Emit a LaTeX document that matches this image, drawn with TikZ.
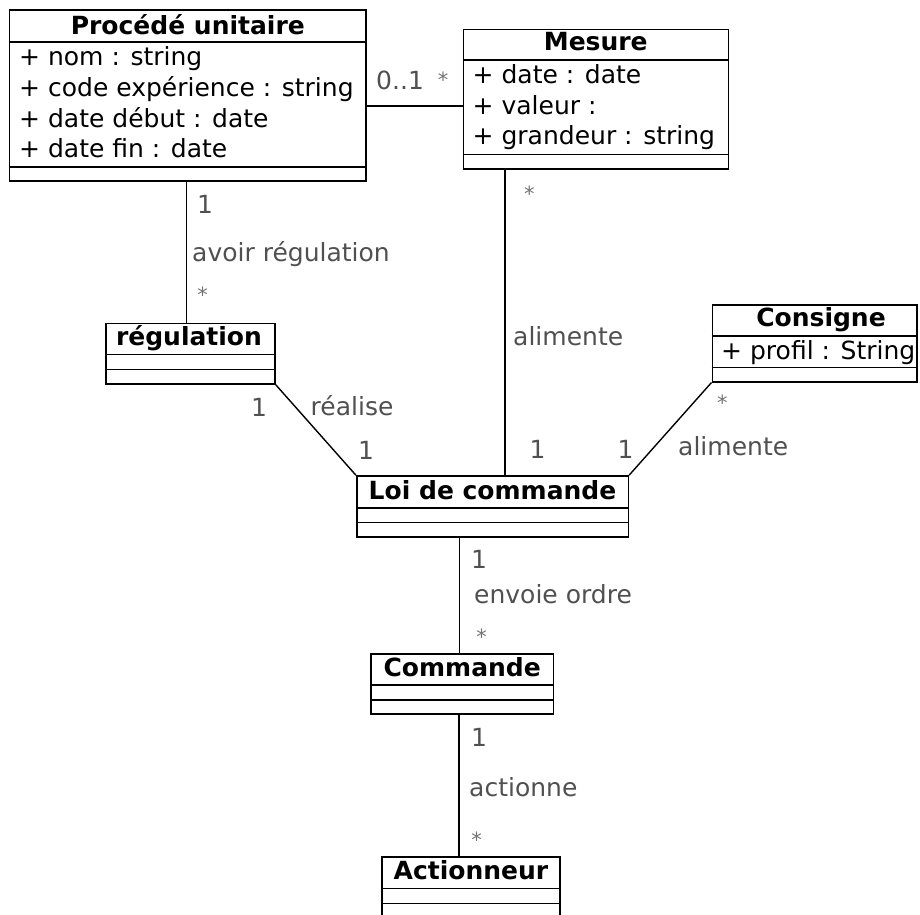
\documentclass[tikz,border=0pt]{standalone}
\usepackage{fontspec}
\setmainfont{DejaVu Sans}
\definecolor{labgray}{HTML}{505050}
\newcommand{\ufont}{\fontsize{25}{30}\selectfont}
\newcommand{\sfontsm}{\fontsize{21}{24}\selectfont}
\begin{document}
\begin{tikzpicture}[x=1pt,y=-1pt,
  umlbox/.style={draw, line width=1.6pt, inner sep=0pt, fill=white},
  sep/.style={line width=1.6pt},
  conn/.style={line width=1.4pt},
  ttl/.style={font={\ufont\bfseries}, inner sep=0pt, anchor=base},
  attr/.style={font=\ufont, inner sep=0pt, anchor=base west},
  lbl/.style={font=\ufont, text=labgray, inner sep=0pt, anchor=base},
  lblw/.style={font=\ufont, text=labgray, inner sep=0pt, anchor=base west},
  star/.style={font=\sfontsm, text=labgray!80, inner sep=0pt, anchor=center}]
\useasboundingbox (0,0) rectangle (920,914);
\clip (0,0) rectangle (920,914);

% boxes
\node[umlbox, minimum width=356.2pt, minimum height=171pt] (proc) at (187.6,95.5) {};
\node[umlbox, minimum width=265pt, minimum height=139.7pt] (mes) at (595.8,99.15) {};
\node[umlbox, minimum width=169.3pt, minimum height=60.7pt] (reg) at (190.35,353.65) {};
\node[umlbox, minimum width=204.7pt, minimum height=76.7pt] (cons) at (814.65,343.35) {};
\node[umlbox, minimum width=271.6pt, minimum height=60.7pt] (loi) at (492.5,506.35) {};
\node[umlbox, minimum width=182.3pt, minimum height=60pt] (cmd) at (462.15,684) {};
\node[umlbox, minimum width=178pt, minimum height=64pt] (act) at (471,888.7) {};

% compartment separators
\draw[sep] (proc.west |- 0,41.7) -- (proc.east |- 0,41.7);
\draw[sep] (proc.west |- 0,166.8) -- (proc.east |- 0,166.8);
\draw[sep] (mes.west |- 0,60) -- (mes.east |- 0,60);
\draw[sep] (mes.west |- 0,154.6) -- (mes.east |- 0,154.6);
\draw[sep] (reg.west |- 0,354.3) -- (reg.east |- 0,354.3);
\draw[sep] (reg.west |- 0,369.3) -- (reg.east |- 0,369.3);
\draw[sep] (cons.west |- 0,336) -- (cons.east |- 0,336);
\draw[sep] (cons.west |- 0,367.3) -- (cons.east |- 0,367.3);
\draw[sep] (loi.west |- 0,507.7) -- (loi.east |- 0,507.7);
\draw[sep] (loi.west |- 0,522.3) -- (loi.east |- 0,522.3);
\draw[sep] (cmd.west |- 0,685) -- (cmd.east |- 0,685);
\draw[sep] (cmd.west |- 0,700) -- (cmd.east |- 0,700);
\draw[sep] (act.west |- 0,888.3) -- (act.east |- 0,888.3);
\draw[sep] (act.west |- 0,903.3) -- (act.east |- 0,903.3);

% titles
\node[ttl] (tproc) at (187.8,34.5) {Procédé unitaire};
\node[ttl] (tmes) at (595.8,50.7) {Mesure};
\node[ttl] (treg) at (189,345.7) {régulation};
\node[ttl] (tcons) at (821,326.7) {Consigne};
\node[ttl] (tloi) at (492.5,499.3) {Loi de commande};
\node[ttl] (tcmd) at (462.2,676) {Commande};
\node[ttl] (tact) at (471,879.3) {Actionneur};

% attributes
\node[attr] (a1) at (19,65.5) {+ nom : string};
\node[attr] (a2) at (19,96.3) {+ code expérience : string};
\node[attr] (a3) at (19,127.1) {+ date début : date};
\node[attr] (a4) at (19,157.9) {+ date fin : date};
\node[attr] (m1) at (472.5,83.3) {+ date : date};
\node[attr] (m2) at (472.5,114) {+ valeur :};
\node[attr] (m3) at (472.5,144.5) {+ grandeur : string};
\node[attr] (c1) at (721,359) {+ profil : String};

% connectors
\draw[conn] (proc.south -| 186.5,0) -- (reg.north -| 186.5,0);
\draw[conn] (proc.east |- 0,106) -- (mes.west |- 0,106);
\draw[conn] (mes.south -| 504.8,0) -- (loi.north -| 504.8,0);
\draw[conn] (reg.south east) -- (loi.north west);
\draw[conn] (cons.south west) -- (loi.north east);
\draw[conn] (loi.south -| 459.2,0) -- (cmd.north -| 459.2,0);
\draw[conn] (cmd.south -| 459,0) -- (act.north -| 459,0);

% association labels
\node[lblw] (l01) at (376,89.3) {0..1};
\node[star] (s01) at (443,80) {*};

\node[lbl] (n1a) at (205,213.3) {1};
\node[lblw] (avr) at (192,261.7) {avoir régulation};
\node[star] (s1a) at (202.7,295) {*};

\node[star] (s2a) at (529.3,194) {*};
\node[lblw] (ali1) at (513,345) {alimente};
\node[lbl] (n2b) at (537.5,458.3) {1};

\node[lbl] (n3a) at (259,416) {1};
\node[lblw] (rea) at (310.5,415) {réalise};
\node[lbl] (n3b) at (366,459.3) {1};

\node[lbl] (n4b) at (625.5,458.3) {1};
\node[star] (s4a) at (722.3,402.7) {*};
\node[lblw] (ali2) at (678,455) {alimente};

\node[lbl] (n5a) at (479,568.3) {1};
\node[lblw] (env) at (474,603.3) {envoie ordre};
\node[star] (s5b) at (481.7,636.7) {*};

\node[lbl] (n6a) at (479,746.7) {1};
\node[lblw] (act1) at (469,796) {actionne};
\node[star] (s6b) at (476.7,839.3) {*};
\end{tikzpicture}
\end{document}
